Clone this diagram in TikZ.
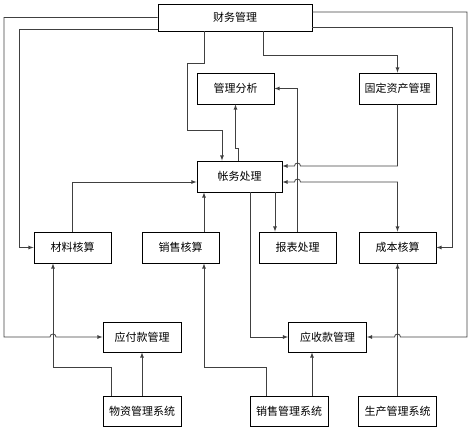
\documentclass[tikz,border=0pt]{standalone}
\usepackage{fontspec}
\newfontfamily\cjk{Noto Sans CJK SC}
\usetikzlibrary{arrows}

\tikzset{
    box/.style={draw, line width=0.8pt, fill=white, minimum width=77pt,
        minimum height=31pt, inner sep=0pt, font=\cjk\fontsize{11}{13}\selectfont},
    link/.style={draw=black!75, line width=0.8pt, -latex},
}

\begin{document}
\begin{tikzpicture}[x=1pt, y=1pt]
        \useasboundingbox (0,0) rectangle (472,431);

        \node[box, minimum width=154pt, minimum height=27pt] (cw) at (235,413.5) {财务管理};
        \node[box] (gl) at (235.5,342.5) {管理分析};
        \node[box] (gd) at (397.5,342.5) {固定资产管理};
        \node[box, minimum width=85pt] (zw) at (239.5,254.5) {帐务处理};
        \node[box] (cl) at (72.5,183.5) {材料核算};
        \node[box] (xh) at (180.5,183.5) {销售核算};
        \node[box] (bb) at (297.5,183.5) {报表处理};
        \node[box] (cb) at (397.5,183.5) {成本核算};
        \node[box, minimum width=78pt, minimum height=30pt] (yf) at (142,94) {应付款管理};
        \node[box, minimum width=78pt, minimum height=30pt] (ys) at (327.5,94) {应收款管理};
        \node[box, minimum width=78pt, minimum height=30pt] (wz) at (142,20) {物资管理系统};
        \node[box, minimum width=78pt, minimum height=30pt] (xg) at (289,20) {销售管理系统};
        \node[box, minimum width=78pt, minimum height=30pt] (sc) at (397.5,20) {生产管理系统};

        % from the top box
        \draw[link] (cw.west) -- (4,413.5) -- (4,94) -- (50,94) arc (180:0:3) -- (yf.west);
        \draw[link] ([yshift=-12]cw.west) -- (19,401.5) |- (cl.west);
        \draw[link] ([xshift=-31]cw.south) -- ++(0,-32) -- ++(-17,0) -- ++(0,-67)
            -- ++(35,0) -- ([xshift=-17.5]zw.north);
        \draw[link] ([xshift=28]cw.south) -- ++(0,-24) -| (gd.north);
        \draw[link] ([yshift=5.5]cw.east) -- (467,419) -- (467,94) -- (400.5,94)
            arc (0:180:3) -- (ys.east);
        \draw[link] ([yshift=-10]cw.east) -- (452,403.5) |- (cb.east);

        % around the middle box
        \draw[link] ([xshift=-1.5]zw.north) -- ++(0,12) -| (gl.south);
        \draw[link] (bb.north) |- (gl.east);
        \draw[link] (gd.south) |- (300.5,265) arc (0:180:3) -- ([yshift=10.5]zw.east);
        \draw[link, latex-latex] ([yshift=-5.5]zw.east) -- (294.5,249) arc (180:0:3)
            -| (cb.north);
        \draw[link] (cl.north) |- ([yshift=-5.5]zw.west);
        \draw[link] ([xshift=23.5]xh.north) -- ([xshift=23.5]xh.north |- zw.south);
        \draw[link] ([xshift=-22.5]bb.north |- zw.south) -- ([xshift=-22.5]bb.north);
        \draw[link] ([xshift=10.5]zw.south) |- (ys.west);

        % from the bottom row
        \draw[link] ([xshift=-31]wz.north) -- ++(0,28) -| ([xshift=-19.5]cl.south);
        \draw[link] (wz.north) -- (yf.south);
        \draw[link] ([xshift=-23]xg.north) -- ++(0,28) -| ([xshift=23.5]xh.south);
        \draw[link] ([xshift=23]xg.north) -- ([xshift=23]xg.north |- ys.south);
        \draw[link] (sc.north) -- (cb.south);
    \end{tikzpicture}
\end{document}
